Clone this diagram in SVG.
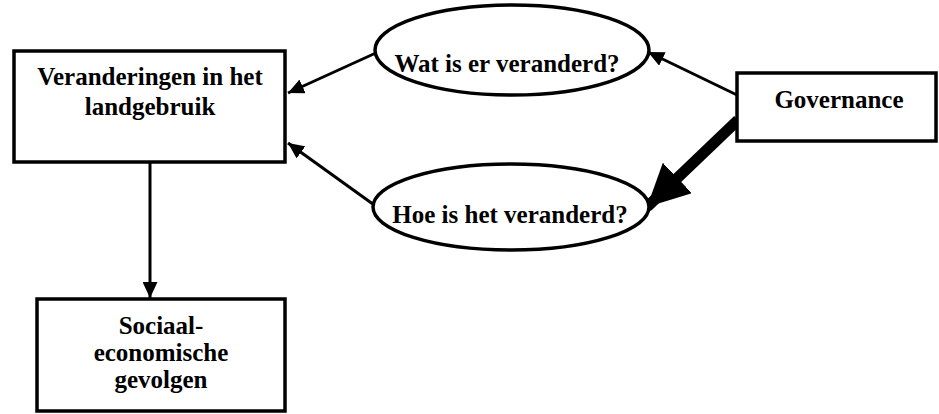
<svg xmlns="http://www.w3.org/2000/svg" width="939" height="414" viewBox="0 0 939 414">
  <style>
    .box { fill: #ffffff; stroke: #000000; stroke-width: 3.5; }
    .lbl { font-family: "Liberation Serif", "Times New Roman", serif; font-weight: bold; font-size: 25px; fill: #000000; text-anchor: middle; }
    .conn { stroke: #000000; stroke-width: 3; fill: none; }
    .thick { stroke: #000000; stroke-width: 11; fill: none; }
  </style>
  <defs>
    <marker id="ah" markerUnits="userSpaceOnUse" markerWidth="17" markerHeight="15" refX="16" refY="7.5" orient="auto">
      <path d="M0,0 L16,7.5 L0,15 Z" fill="#000000"/>
    </marker>
    <marker id="ahBig" markerUnits="userSpaceOnUse" markerWidth="44" markerHeight="44" refX="42" refY="21" orient="auto">
      <path d="M0,0 L42,21 L0,42 Z" fill="#000000"/>
    </marker>
  </defs>

  <g id="connectors">
    <line class="conn" x1="378" y1="52" x2="288" y2="93" marker-end="url(#ah)"/>
    <line class="conn" x1="377" y1="207" x2="288" y2="143" marker-end="url(#ah)"/>
    <line class="conn" x1="737" y1="95" x2="648" y2="52" marker-end="url(#ah)"/>
    <line class="conn" x1="150" y1="162" x2="150" y2="298" marker-end="url(#ah)"/>
    <line class="thick" x1="738" y1="120" x2="647" y2="207" marker-end="url(#ahBig)"/>
  </g>

  <g id="node-landgebruik">
    <rect class="box" x="14" y="51" width="271" height="111"/>
    <text class="lbl" x="150" y="85">Veranderingen in het</text>
    <text class="lbl" x="150" y="115">landgebruik</text>
  </g>

  <g id="node-wat">
    <ellipse class="box" cx="512" cy="50" rx="137" ry="45"/>
    <text class="lbl" x="507" y="72">Wat is er veranderd?</text>
  </g>

  <g id="node-hoe">
    <ellipse class="box" cx="511" cy="207" rx="138" ry="43"/>
    <text class="lbl" x="510" y="223">Hoe is het veranderd?</text>
  </g>

  <g id="node-governance">
    <rect class="box" x="737" y="73" width="199" height="68"/>
    <text class="lbl" x="839" y="108">Governance</text>
  </g>

  <g id="node-gevolgen">
    <rect class="box" x="37" y="299" width="248" height="112"/>
    <text class="lbl" x="161" y="334">Sociaal-</text>
    <text class="lbl" x="161" y="361">economische</text>
    <text class="lbl" x="161" y="388">gevolgen</text>
  </g>
</svg>
